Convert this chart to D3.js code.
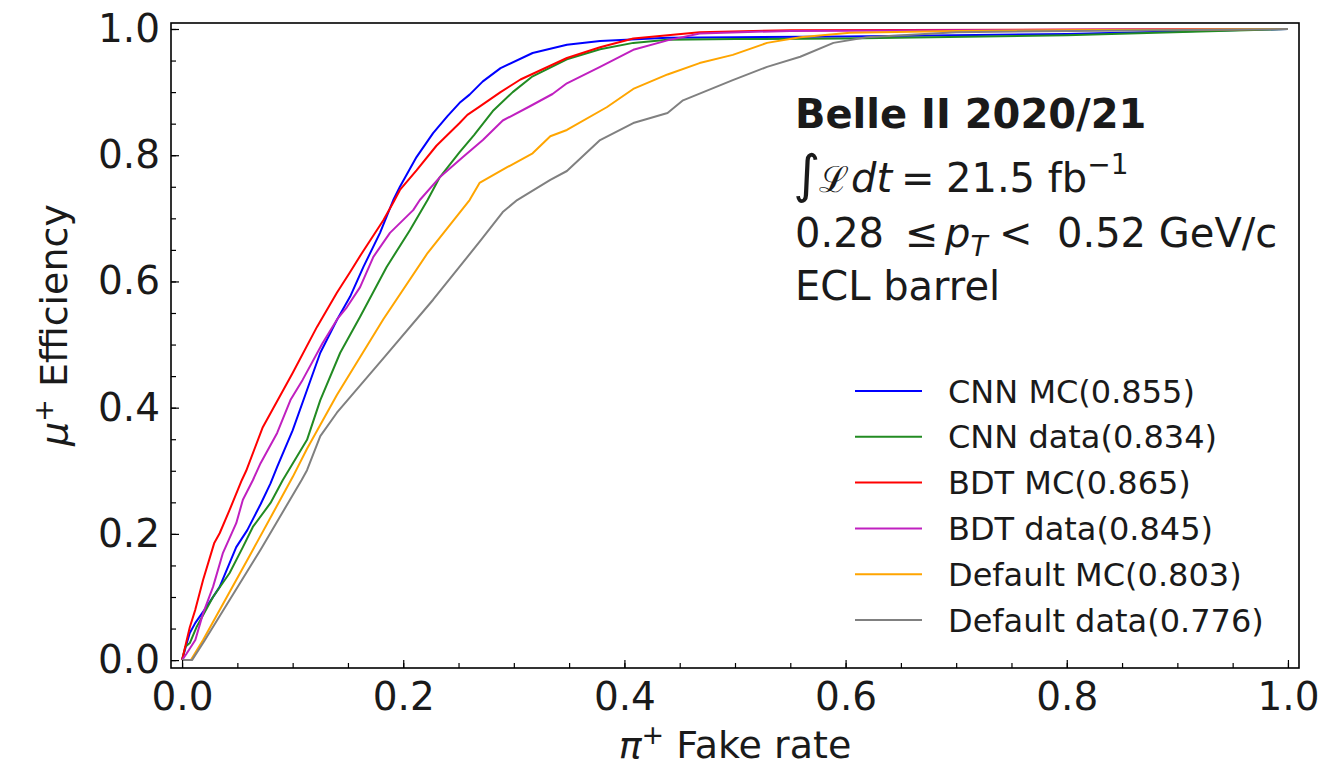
<!DOCTYPE html>
<html>
<head>
<meta charset="utf-8">
<script src="https://cdn.jsdelivr.net/npm/d3@7"></script>
<style>
  html, body { margin: 0; padding: 0; background: #fff; }
  #chart { width: 1327px; height: 778px; }
  text { font-family: "DejaVu Sans", sans-serif; fill: #1a1a1a; }
</style>
</head>
<body>
<div id="chart"></div>
<script>
// ── DATA ────────────────────────────────────────────────────────────────────
// ROC-style curves: [fake rate, efficiency]
const cnnMC = [[0,0],[0.004,0.025],[0.007,0.043],[0.012,0.059],[0.022,0.084],[0.034,0.116],[0.049,0.179],[0.059,0.206],[0.071,0.247],[0.08,0.28],[0.086,0.306],[0.1,0.364],[0.113,0.428],[0.125,0.487],[0.14,0.539],[0.152,0.576],[0.164,0.623],[0.179,0.677],[0.191,0.729],[0.197,0.75],[0.212,0.797],[0.227,0.835],[0.24,0.862],[0.251,0.883],[0.26,0.896],[0.272,0.917],[0.288,0.938],[0.317,0.962],[0.348,0.975],[0.378,0.981],[0.439,0.986],[0.5,0.987],[0.6,0.988],[0.8,0.992],[1,1]];
const cnnData = [[0,0],[0.003,0.021],[0.007,0.027],[0.013,0.052],[0.028,0.1],[0.043,0.138],[0.055,0.179],[0.064,0.211],[0.08,0.249],[0.091,0.285],[0.113,0.349],[0.125,0.412],[0.143,0.487],[0.161,0.544],[0.185,0.623],[0.206,0.681],[0.222,0.729],[0.233,0.765],[0.251,0.805],[0.264,0.832],[0.281,0.87],[0.299,0.9],[0.317,0.925],[0.348,0.952],[0.378,0.968],[0.408,0.978],[0.439,0.983],[0.5,0.984],[0.6,0.985],[0.8,0.99],[1,1]];
const bdtMC = [[0,0],[0.004,0.03],[0.007,0.052],[0.012,0.08],[0.019,0.127],[0.029,0.185],[0.034,0.201],[0.043,0.238],[0.054,0.285],[0.058,0.3],[0.073,0.369],[0.1,0.455],[0.122,0.528],[0.14,0.582],[0.152,0.615],[0.163,0.646],[0.182,0.697],[0.191,0.725],[0.197,0.745],[0.212,0.776],[0.23,0.815],[0.251,0.851],[0.258,0.864],[0.269,0.877],[0.288,0.9],[0.306,0.92],[0.348,0.954],[0.378,0.971],[0.408,0.985],[0.468,0.995],[0.55,0.998],[1,1]];
const bdtData = [[0,0],[0.004,0.01],[0.012,0.032],[0.019,0.074],[0.028,0.116],[0.037,0.17],[0.049,0.217],[0.055,0.254],[0.064,0.285],[0.071,0.312],[0.086,0.36],[0.098,0.412],[0.109,0.444],[0.127,0.502],[0.141,0.542],[0.149,0.559],[0.161,0.591],[0.173,0.639],[0.188,0.677],[0.209,0.713],[0.215,0.729],[0.233,0.765],[0.254,0.797],[0.272,0.824],[0.29,0.855],[0.315,0.878],[0.335,0.897],[0.348,0.914],[0.378,0.94],[0.408,0.967],[0.439,0.982],[0.468,0.993],[0.55,0.997],[1,1]];
const defMC = [[0,0],[0.008,0],[0.019,0.032],[0.061,0.165],[0.1,0.29],[0.113,0.335],[0.14,0.42],[0.182,0.54],[0.222,0.645],[0.26,0.729],[0.269,0.756],[0.294,0.781],[0.317,0.803],[0.333,0.83],[0.348,0.84],[0.384,0.876],[0.408,0.905],[0.439,0.928],[0.468,0.946],[0.498,0.959],[0.529,0.978],[0.559,0.987],[0.604,0.994],[0.7,0.997],[1,1]];
const defData = [[0,0],[0.009,0],[0.02,0.03],[0.071,0.175],[0.108,0.285],[0.113,0.301],[0.125,0.355],[0.14,0.392],[0.182,0.478],[0.227,0.571],[0.27,0.665],[0.29,0.71],[0.303,0.729],[0.333,0.761],[0.348,0.775],[0.378,0.824],[0.408,0.851],[0.439,0.867],[0.453,0.887],[0.498,0.919],[0.529,0.94],[0.559,0.956],[0.589,0.978],[0.619,0.987],[0.7,0.995],[1,1]];

const labels = ["CNN MC(0.855)", "CNN data(0.834)", "BDT MC(0.865)", "BDT data(0.845)", "Default MC(0.803)", "Default data(0.776)"];
const colors = ["#0000ff", "#228b22", "#ff0000", "#c020c0", "#ffa500", "#808080"];
const curves = [cnnMC, cnnData, bdtMC, bdtData, defMC, defData];

const majorTicks = [0, 0.2, 0.4, 0.6, 0.8, 1.0];
const minorTicks = d3.range(0, 1.0001, 0.05);

// ── LAYOUT ──────────────────────────────────────────────────────────────────
const W = 1327, H = 778;
const plot = { left: 171, right: 1299, top: 23, bottom: 668 };

const x = d3.scaleLinear().domain([-0.01, 1.01]).range([plot.left, plot.right]);
const y = d3.scaleLinear().domain([-0.0125, 1.0095]).range([plot.bottom, plot.top]);

const svg = d3.select("#chart").append("svg")
  .attr("width", W).attr("height", H)
  .style("display", "block");

svg.append("rect").attr("width", W).attr("height", H).attr("fill", "#fff");

// clip so curves stay inside the frame
svg.append("clipPath").attr("id", "clip")
  .append("rect")
  .attr("x", plot.left).attr("y", plot.top)
  .attr("width", plot.right - plot.left).attr("height", plot.bottom - plot.top);

// ── CURVES ──────────────────────────────────────────────────────────────────
const line = d3.line().x(d => x(d[0])).y(d => y(d[1]));

const curveG = svg.append("g").attr("clip-path", "url(#clip)");
curves.forEach((c, i) => {
  curveG.append("path")
    .datum(c)
    .attr("fill", "none")
    .attr("stroke", colors[i])
    .attr("stroke-width", 2)
    .attr("stroke-linejoin", "round")
    .attr("d", line);
});

// ── AXES (ticks point inward, left + bottom only) ──────────────────────────
const fmt = d3.format(".1f");

svg.append("g")
  .attr("transform", `translate(0,${plot.bottom})`)
  .call(d3.axisBottom(x).tickValues(minorTicks).tickSize(-5).tickFormat(""))
  .call(ax => ax.select(".domain").remove())
  .call(ax => ax.selectAll(".tick line").attr("stroke", "#000").attr("stroke-width", 1.2));

svg.append("g")
  .attr("transform", `translate(0,${plot.bottom})`)
  .call(d3.axisBottom(x).tickValues(majorTicks).tickSize(-8).tickPadding(14).tickFormat(fmt))
  .call(ax => ax.select(".domain").remove())
  .call(ax => ax.selectAll(".tick line").attr("stroke", "#000").attr("stroke-width", 1.2))
  .call(ax => ax.selectAll(".tick text")
    .attr("fill", "#1a1a1a")
    .attr("font-family", "DejaVu Sans")
    .attr("font-size", "39px"));

svg.append("g")
  .attr("transform", `translate(${plot.left},0)`)
  .call(d3.axisLeft(y).tickValues(minorTicks).tickSize(-5).tickFormat(""))
  .call(ax => ax.select(".domain").remove())
  .call(ax => ax.selectAll(".tick line").attr("stroke", "#000").attr("stroke-width", 1.2));

svg.append("g")
  .attr("transform", `translate(${plot.left},0)`)
  .call(d3.axisLeft(y).tickValues(majorTicks).tickSize(-8).tickPadding(11).tickFormat(fmt))
  .call(ax => ax.select(".domain").remove())
  .call(ax => ax.selectAll(".tick line").attr("stroke", "#000").attr("stroke-width", 1.2))
  .call(ax => ax.selectAll(".tick text")
    .attr("fill", "#1a1a1a")
    .attr("font-family", "DejaVu Sans")
    .attr("font-size", "39px"));

// frame
svg.append("rect")
  .attr("x", plot.left).attr("y", plot.top)
  .attr("width", plot.right - plot.left).attr("height", plot.bottom - plot.top)
  .attr("fill", "none")
  .attr("stroke", "#000")
  .attr("stroke-width", 1.6);

// ── AXIS LABELS ─────────────────────────────────────────────────────────────
const xl = svg.append("text")
  .attr("x", (plot.left + plot.right) / 2)
  .attr("y", 758)
  .attr("text-anchor", "middle")
  .attr("font-size", "38px");
xl.append("tspan").attr("font-style", "italic").text("π");
xl.append("tspan").attr("font-size", "27px").attr("dy", "-14").text("+");
xl.append("tspan").attr("dy", "14").text(" Fake rate");

const yl = svg.append("text")
  .attr("transform", `translate(67,325) rotate(-90)`)
  .attr("text-anchor", "middle")
  .attr("font-size", "38px");
yl.append("tspan").attr("font-style", "italic").text("μ");
yl.append("tspan").attr("font-size", "27px").attr("dy", "-14").text("+");
yl.append("tspan").attr("dy", "14").text(" Efficiency");

// ── ANNOTATION ──────────────────────────────────────────────────────────────
const ax0 = 795;
svg.append("text")
  .attr("x", ax0).attr("y", 128)
  .attr("font-size", "40px")
  .attr("font-weight", "bold")
  .text("Belle II 2020/21");

const lumi = svg.append("text").attr("y", 192).attr("font-size", "40px");
lumi.append("tspan").attr("x", ax0 - 2).attr("font-size", "52px").text("∫");
lumi.append("tspan").attr("x", ax0 + 24).attr("font-family", "DejaVu Serif").attr("font-size", "36px").text("ℒ");
lumi.append("tspan").attr("x", ax0 + 56).attr("font-style", "italic").text("dt");
lumi.append("tspan").attr("x", ax0 + 106).text("=");
lumi.append("tspan").attr("x", ax0 + 151).text("21.5 fb");
lumi.append("tspan").attr("font-size", "28px").attr("dy", "-18").text("−1");

const pt = svg.append("text").attr("y", 247).attr("font-size", "40px");
pt.append("tspan").attr("x", ax0).text("0.28");
pt.append("tspan").attr("x", ax0 + 110).text("≤");
pt.append("tspan").attr("x", ax0 + 150).attr("font-style", "italic").text("p");
pt.append("tspan").attr("font-size", "28px").attr("font-style", "italic").attr("dy", "9").text("T");
pt.append("tspan").attr("x", ax0 + 204).attr("dy", "-9").text("<");
pt.append("tspan").attr("x", ax0 + 262).text("0.52 GeV/c");

svg.append("text")
  .attr("x", ax0).attr("y", 300)
  .attr("font-size", "40px")
  .text("ECL barrel");

// ── LEGEND ──────────────────────────────────────────────────────────────────
const legend = svg.append("g").attr("transform", "translate(855,391)");
labels.forEach((lab, i) => {
  const row = legend.append("g").attr("transform", `translate(0,${i * 45.8})`);
  row.append("line")
    .attr("x1", 0).attr("x2", 67)
    .attr("stroke", colors[i])
    .attr("stroke-width", 2);
  row.append("text")
    .attr("x", 93).attr("y", 11.5)
    .attr("font-size", "32px")
    .attr("fill", "#222")
    .text(lab);
});
</script>
</body>
</html>
